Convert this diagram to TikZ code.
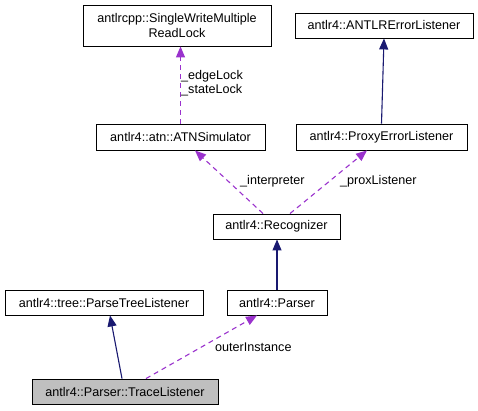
\documentclass[tikz,border=0pt]{standalone}
\usepackage{fontspec}
\setmainfont{Liberation Sans}
\usepackage{tikz}
\usetikzlibrary{arrows.meta, positioning}

\definecolor{usecol}{HTML}{9A32CD}
\definecolor{inhcol}{HTML}{191970}
\definecolor{curcol}{HTML}{BFBFBF}

\tikzset{
    classbox/.style={draw=black, fill=white, line width=0.9pt, inner sep=0pt, align=center},
    uses/.style={usecol, line width=1.1pt, dash pattern=on 5pt off 4pt, -{Triangle[length=11pt, width=9pt]}},
    inherits/.style={inhcol, line width=1.1pt, -{Triangle[length=11pt, width=9pt]}},
    edgelabel/.style={anchor=west, align=left, inner sep=0pt}
}

\begin{document}
\begin{tikzpicture}[x=1pt, y=-1pt, font=\fontsize{12.6}{14.5}\selectfont]
    \useasboundingbox (0,0) rectangle (478,411);

    % Top row
    \node[classbox, minimum width=188pt, minimum height=41pt] (lock) at (177,25.5) {antlrcpp::SingleWriteMultiple\\ReadLock};
    \node[classbox, minimum width=178pt, minimum height=25pt] (errlis) at (384,25.5) {antlr4::ANTLRErrorListener};

    % Second row
    \node[classbox, minimum width=169pt, minimum height=26pt] (atnsim) at (180.5,137) {antlr4::atn::ATNSimulator};
    \node[classbox, minimum width=171pt, minimum height=26pt] (proxy) at (381.5,137) {antlr4::ProxyErrorListener};

    % Recognizer
    \node[classbox, minimum width=127pt, minimum height=25pt] (recog) at (276.5,226.5) {antlr4::Recognizer};

    % Fourth row
    \node[classbox, minimum width=198pt, minimum height=25pt] (ptlis) at (104,302.5) {antlr4::tree::ParseTreeListener};
    \node[classbox, minimum width=100pt, minimum height=25pt] (parser) at (277,302.5) {antlr4::Parser};

    % The class itself
    \node[classbox, fill=curcol, minimum width=186pt, minimum height=25pt] (trace) at (125,391.5) {antlr4::Parser::TraceListener};

    % Connectors
    \draw[uses] (atnsim.north) -- (atnsim.north |- lock.south);
    \node[edgelabel] (locklbl) at (181,83) {\_edgeLock\\\_stateLock};

    \draw[inherits] (proxy.north) -- (errlis.south);

    \draw[uses] ([xshift=-13.5pt]recog.north) -- ([xshift=14.5pt]atnsim.south);
    \node[edgelabel] (interplbl) at (240,181) {\_interpreter};

    \draw[uses] ([xshift=13.5pt]recog.north) -- ([xshift=-14.5pt]proxy.south);
    \node[edgelabel] (proxlbl) at (340,181) {\_proxListener};

    \draw[inherits] (parser.north) -- (parser.north |- recog.south);

    \draw[inherits] ([xshift=-3pt]trace.north) -- ([xshift=6pt]ptlis.south);

    \draw[uses] ([xshift=21pt]trace.north) -- ([xshift=-20pt]parser.south);
    \node[edgelabel] (outerlbl) at (215,347) {outerInstance};

\end{tikzpicture}
\end{document}
